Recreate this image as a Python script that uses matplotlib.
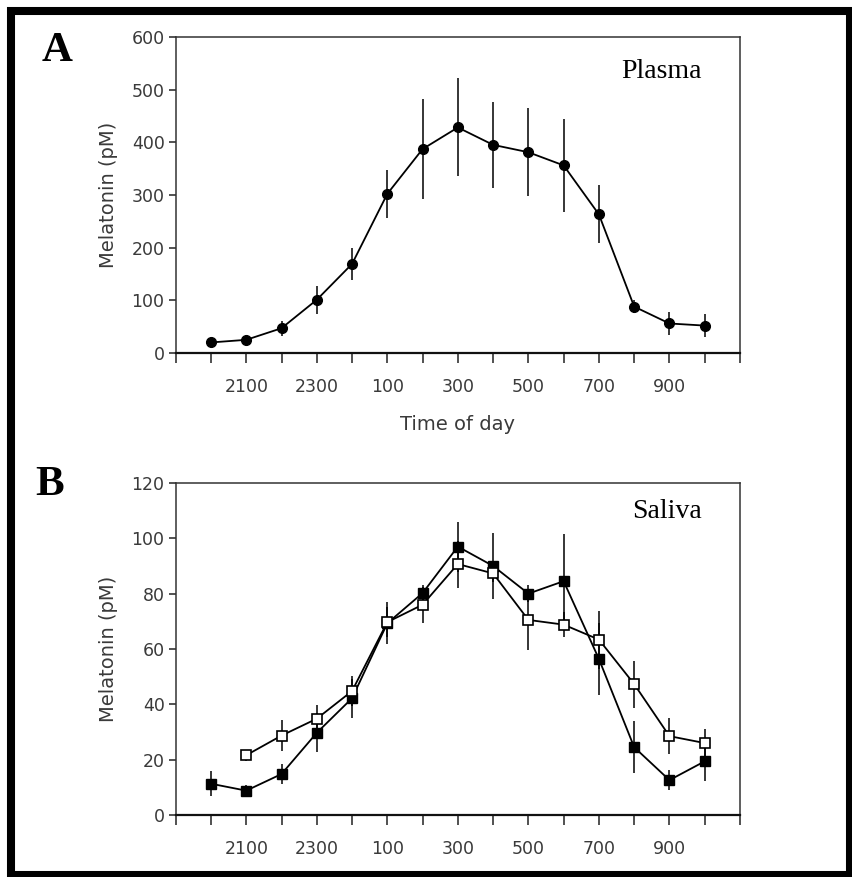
import matplotlib
matplotlib.use('Agg')
import matplotlib.pyplot as plt
import matplotlib.patches as patches
import numpy as np

# --- datos (índice 0 = 2000 h, índice 14 = 1000 h) ---
hours = ['2000', '2100', '2200', '2300', '000', '100', '200', '300',
         '400', '500', '600', '700', '800', '900', '1000']
shown_labels = ['', '2100', '', '2300', '', '100', '', '300',
                '', '500', '', '700', '', '900', '']

plasma = [20, 25, 47, 101, 169, 302, 387, 428, 395, 381, 356, 263, 88, 56, 52]
plasma_err = [8, 8, 14, 27, 30, 46, 95, 93, 81, 83, 88, 55, 13, 21, 22]

saliva_filled = [11.3, 8.8, 14.8, 29.7, 42.2, 69.3, 80.2, 97, 90, 80, 84.5, 56.4, 24.5, 12.6, 19.4]
saliva_filled_err = [4.5, 2, 3.5, 7, 7, 7.5, 3, 9, 12, 3, 17, 13, 9.5, 3.5, 7]

saliva_open = [np.nan, 21.6, 28.7, 34.8, 44.8, 69.7, 76, 90.7, 87.3, 70.5, 68.8, 63.4, 47.3, 28.5, 26]
saliva_open_err = [0, 2, 5.5, 5, 5.5, 5.5, 6.5, 8.5, 3, 11, 4.5, 10.5, 8.5, 6.5, 5]

tick_font = ['DejaVu Sans']
serif_font = ['Liberation Serif', 'DejaVu Serif']
gray = '#3a3a3a'

fig = plt.figure(figsize=(8.53, 8.77), dpi=100)
ax_a = fig.add_axes([0.206, 0.5975, 0.6615, 0.3605])
ax_b = fig.add_axes([0.206, 0.0707, 0.6615, 0.3786])

x = np.arange(len(hours))


def style_axis(ax, ymax, ystep):
    ax.set_xlim(-1, 15)
    ax.set_ylim(0, ymax)
    ax.set_xticks(np.arange(-1, 16))
    ax.set_xticklabels([''] + shown_labels + [''])
    ax.set_yticks(np.arange(0, ymax + 1, ystep))
    for lbl in ax.get_xticklabels() + ax.get_yticklabels():
        lbl.set_family(tick_font)
        lbl.set_fontsize(12.5)
        lbl.set_color(gray)
    ax.tick_params(axis='x', direction='out', length=7, width=1.1, pad=11, colors='#222222', labelcolor=gray)
    ax.tick_params(axis='y', direction='out', length=5, width=1.1, pad=3, colors='#222222', labelcolor=gray)
    for s in ax.spines.values():
        s.set_linewidth(1.1)
        s.set_color('#333333')
    ax.spines['bottom'].set_linewidth(1.6)
    ax.spines['bottom'].set_color('#111111')
    ax.set_ylabel('Melatonin (pM)', family=tick_font, fontsize=14, color=gray, labelpad=10)


# --- Panel A: plasma ---
ax_a.errorbar(x, plasma, yerr=plasma_err, fmt='o-', color='k', ms=7, lw=1.3,
              elinewidth=1.1, capsize=0)
style_axis(ax_a, 600, 100)
ax_a.set_xlabel('Time of day', family=tick_font, fontsize=14, color=gray, labelpad=14)
ax_a.text(0.933, 0.870, 'Plasma', transform=ax_a.transAxes, ha='right', va='baseline',
          family=serif_font, fontsize=20)

# --- Panel B: saliva ---
ax_b.errorbar(x, saliva_open, yerr=saliva_open_err, fmt='s-', color='k', mfc='white',
              mec='k', mew=1.2, ms=7, lw=1.3, elinewidth=1.1, capsize=0, zorder=3)
ax_b.errorbar(x, saliva_filled, yerr=saliva_filled_err, fmt='s-', color='k', ms=7,
              lw=1.3, elinewidth=1.1, capsize=0, zorder=2)
style_axis(ax_b, 120, 20)
ax_b.text(0.933, 0.895, 'Saliva', transform=ax_b.transAxes, ha='right', va='baseline',
          family=serif_font, fontsize=20)

# --- letras de panel ---
fig.text(0.049, 0.930, 'A', family=serif_font, fontsize=31, weight='bold', va='baseline')
fig.text(0.041, 0.4356, 'B', family=serif_font, fontsize=31, weight='bold', va='baseline')

# --- marco negro ---
fig.add_artist(patches.Rectangle((0.0129, 0.00285), 0.983, 0.9847, transform=fig.transFigure,
                                 fill=False, ec='k', lw=5.8))

plt.savefig('out.png', dpi=100)
plt.close(fig)
